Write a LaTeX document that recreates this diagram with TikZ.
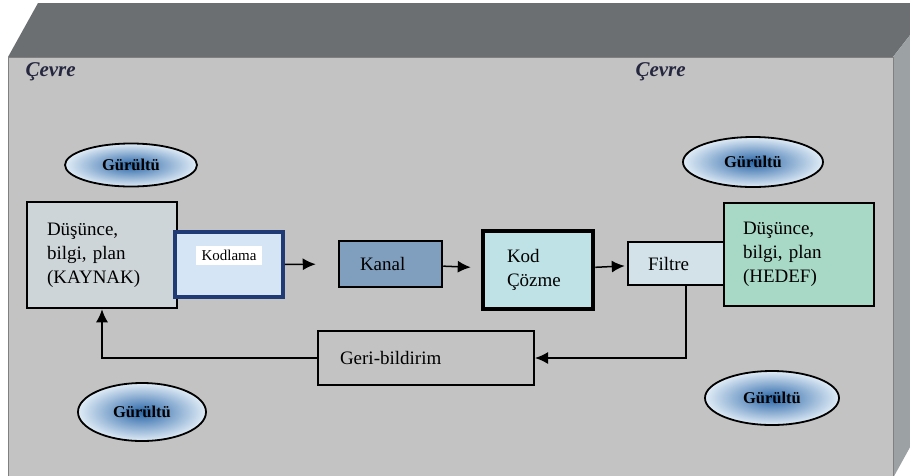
\documentclass[tikz,border=0pt]{standalone}
\usepackage{fontspec}
\setmainfont{Liberation Serif}
\usetikzlibrary{shapes, arrows.meta, positioning}
\definecolor{yuzust}{HTML}{6B6F71}
\definecolor{yuzon}{HTML}{C3C3C3}
\definecolor{yuzyan}{HTML}{9CA2A4}
\definecolor{cevrerenk}{HTML}{25273F}
\definecolor{kaynakrenk}{HTML}{CDD5D8}
\definecolor{kodlamarenk}{HTML}{D5E5F5}
\definecolor{kodlamakenar}{HTML}{1F3A75}
\definecolor{kanalrenk}{HTML}{809FBE}
\definecolor{cozmerenk}{HTML}{BEE2E6}
\definecolor{filtrerenk}{HTML}{D2E2E8}
\definecolor{hedefrenk}{HTML}{A8D8C6}
\definecolor{gurultuic}{HTML}{2A66A8}
\definecolor{gurultudis}{HTML}{E0ECF6}
\newcommand{\kutuyazi}{\frenchspacing\fontsize{19}{24}\selectfont}
\tikzstyle{kutu} = [draw=black, line width=2.5pt, rectangle, align=left, inner sep=0pt, font=\kutuyazi]
\tikzstyle{gurultu} = [draw=black, line width=1.8pt, ellipse, inner sep=0pt, inner color=gurultuic, outer color=gurultudis, font=\bfseries\fontsize{16.5}{18}\selectfont]
\tikzstyle{cevre} = [text=cevrerenk, anchor=west, font=\bfseries\itshape\fontsize{21}{24}\selectfont]
\tikzstyle{ok} = [line width=1.5pt, -{Latex[length=13pt, width=12pt]}]
\tikzstyle{kodetiket} = [fill=white, inner xsep=6pt, inner ysep=4pt, font=\fontsize{15}{16}\selectfont]

\begin{document}
\begin{tikzpicture}[x=1pt, y=-1pt]
	\useasboundingbox (0,0) rectangle (910,475);
	\clip (0,0) rectangle (910,475);
	% ortam kutusu
	\fill[yuzon] (8,57) rectangle (893,480);
	\fill[yuzust] (8,57) -- (38,3) -- (935,3) -- (893,57) -- cycle;
	\fill[yuzyan] (893,57) -- (935,3) -- (935,402) -- (893,478) -- cycle;
	\draw[gray, line width=0.6pt] (8,480) -- (8,57) -- (893,57) -- (893,480);
	\node[cevre] (cevre1) at (22,72) {Çevre};
	\node[cevre] (cevre2) at (632,72) {Çevre};
	% gurultuler
	\node[gurultu, minimum width=132, minimum height=43] (gur1) at (131,165) {Gürültü};
	\node[gurultu, minimum width=140, minimum height=50] (gur2) at (753,162) {Gürültü};
	\node[gurultu, minimum width=128, minimum height=58] (gur3) at (142,412) {Gürültü};
	\node[gurultu, minimum width=134, minimum height=54] (gur4) at (772,398) {Gürültü};
	% kutular
	\node[kutu, fill=kaynakrenk, minimum width=150, minimum height=106, text width=110] (kaynak) at (102,255) {Düşünce,\\bilgi, plan\\(KAYNAK)};
	\node[kutu, fill=kodlamarenk, draw=kodlamakenar, line width=3.5pt, minimum width=108, minimum height=65,
		label={[kodetiket, yshift=9pt]center:Kodlama}] (kodlama) at (229,264.5) {};
	\node[kutu, fill=kanalrenk, minimum width=103, minimum height=46, text width=61] (kanal) at (390.5,264) {Kanal};
	\node[kutu, fill=cozmerenk, line width=4.5pt, minimum width=110, minimum height=78, text width=62] (cozme) at (538,270) {Kod\\Çözme};
	\node[kutu, fill=filtrerenk, minimum width=96, minimum height=43, text width=56] (filtre) at (676,263.5) {Filtre};
	\node[kutu, fill=hedefrenk, minimum width=150, minimum height=103, text width=112] (hedef) at (799,254.5) {Düşünce,\\bilgi, plan\\(HEDEF)};
	\node[kutu, fill=yuzon, line width=2pt, minimum width=216, minimum height=54, text width=172] (geri) at (426,358) {Geri-bildirim\\[-6pt]};
	% oklar
	\draw[ok, shorten >=22pt] (kodlama) -- (kanal);
	\draw[ok, shorten >=10pt] (kanal) -- (cozme);
	\draw[ok, shorten >=2pt] (cozme) -- (filtre);
	\draw[ok] ([xshift=10pt]filtre.south) |- (geri.east);
	\draw[ok] (geri.west) -| (kaynak.south);
\end{tikzpicture}
\end{document}
